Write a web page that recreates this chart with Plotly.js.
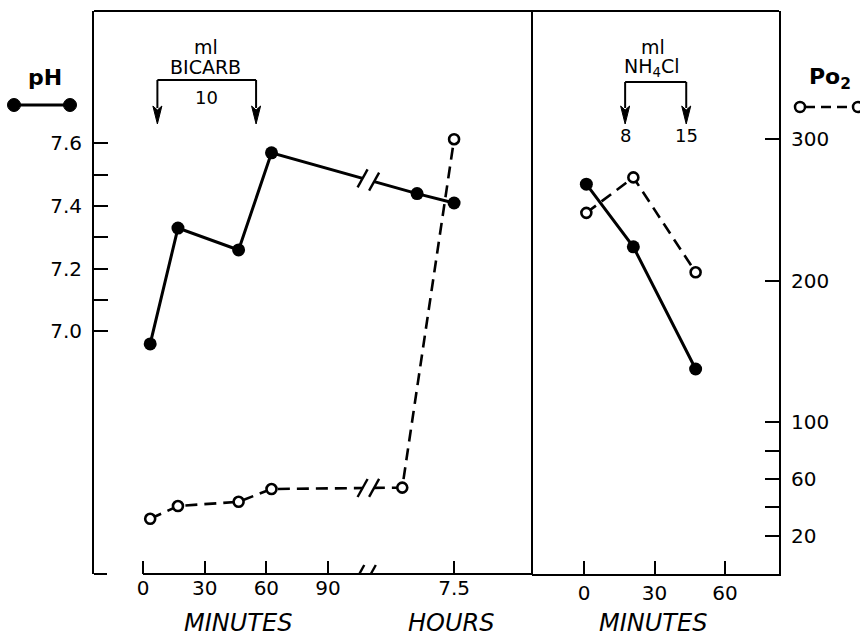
<!DOCTYPE html>
<html><head><meta charset="utf-8">
<script src="https://cdn.plot.ly/plotly-3.0.1.min.js"></script>
<style>html,body{margin:0;padding:0;background:#fff}#chart{width:860px;height:640px}</style>
</head><body><div id="chart"></div>
<script>
// ---------------- data ----------------
const bicarbMinutes = [3.5, 17, 46.5, 62.5];       // minutes after start (left panel)
const bicarbPH      = [6.96, 7.33, 7.26, 7.57];
const bicarbPO2     = [32, 41, 44, 53];
const laterHoursPH  = [7.0, 7.5];                   // hours (after the axis break)
const laterPH       = [7.44, 7.41];
const laterHoursPO2 = [6.8, 7.5];
const laterPO2      = [54, 300];
const nh4clMinutes  = [1, 21, 47.5];                // right panel
const nh4clPH       = [7.47, 7.27, 6.88];
const nh4clPO2      = [248, 273, 206];
const bicarbArrowMinutes = [7, 55];
const bicarbDose = '10';
const nh4clArrowMinutes  = [17.5, 43.5];
const nh4clDoses = ['8', '15'];
const leftMinuteTicks  = [0, 30, 60, 90];
const leftHourTicks    = [7.5];
const rightMinuteTicks = [0, 30, 60];
const pHTicks       = [7.0, 7.2, 7.4, 7.6];
const pHMinorTicks  = [7.1, 7.3, 7.5];
const po2Ticks      = [20, 60, 100, 200, 300];
const po2MinorTicks = [40, 80];

// ---------------- layout helpers ----------------
const W = 860, H = 640;
const fx = p => p / W;
const fy = p => 1 - p / H;
const FONT = 'DejaVu Sans, Verdana, sans-serif';

// broken time axis: minutes are plotted as-is, hours are placed after the break
const HOUR_ANCHOR = 7.5, HOUR_ANCHOR_POS = 151.3, HOUR_UNITS = 36;
const hourPos = h => HOUR_ANCHOR_POS + (h - HOUR_ANCHOR) * HOUR_UNITS;
const BREAK_POS = 109.6, BREAK_HALF = 2.8;

const X1_RANGE = [-23.83, 189.2];
const X2_RANGE = [-22.13, 82.98];
const PH_RANGE = [6.2255, 8.0229];
const PO2_RANGE = [-7.0, 390.5];

const leftX_PH  = bicarbMinutes.concat(laterHoursPH.map(hourPos));
const leftY_PH  = bicarbPH.concat(laterPH);
const leftX_PO2 = bicarbMinutes.concat(laterHoursPO2.map(hourPos));
const leftY_PO2 = bicarbPO2.concat(laterPO2);

function interp(xs, ys, x) {
  for (let i = 0; i < xs.length - 1; i++) {
    if (x >= xs[i] && x <= xs[i + 1]) {
      const t = (x - xs[i]) / (xs[i + 1] - xs[i]);
      return ys[i] + t * (ys[i + 1] - ys[i]);
    }
  }
  return ys[ys.length - 1];
}

const solidLine = {color: '#000', width: 3};
const dashedLine = {color: '#000', width: 2.6, dash: '12px,7px'};
const filled = {symbol: 'circle', size: 13, color: '#000'};
const open = {symbol: 'circle', size: 10, color: '#fff', line: {color: '#000', width: 2.6}};

const traces = [
  {x: leftX_PO2, y: leftY_PO2, xaxis: 'x', yaxis: 'y2', mode: 'lines+markers', line: dashedLine, marker: open, cliponaxis: false},
  {x: nh4clMinutes, y: nh4clPO2, xaxis: 'x2', yaxis: 'y2', mode: 'lines+markers', line: dashedLine, marker: open, cliponaxis: false},
  {x: leftX_PH, y: leftY_PH, xaxis: 'x', yaxis: 'y', mode: 'lines+markers', line: solidLine, marker: filled, cliponaxis: false},
  {x: nh4clMinutes, y: nh4clPH, xaxis: 'x2', yaxis: 'y', mode: 'lines+markers', line: solidLine, marker: filled, cliponaxis: false}
];

// ---------------- shapes ----------------
const shapes = [];
const black2 = {color: '#000', width: 2};
// frame
shapes.push({type: 'line', xref: 'paper', yref: 'paper', x0: fx(94), x1: fx(779), y0: fy(11), y1: fy(11), line: black2});
shapes.push({type: 'line', xref: 'paper', yref: 'paper', x0: fx(532), x1: fx(532), y0: fy(11), y1: fy(574), line: black2});
shapes.push({type: 'line', xref: 'paper', yref: 'paper', x0: fx(94), x1: fx(107), y0: fy(574), y1: fy(574), line: black2});
// left time axis line starts at time zero
shapes.push({type: 'line', xref: 'x', yref: 'paper', x0: 0, x1: X1_RANGE[1], y0: fy(574), y1: fy(574), line: black2});

function slash(xref, yref, xa, ya) {
  return {type: 'line', xref, yref, xsizemode: 'pixel', ysizemode: 'pixel', xanchor: xa, yanchor: ya,
          x0: -5, y0: -9, x1: 5, y1: 9, line: {color: '#000', width: 2.4}};
}
function gap(xref, yref, xa, ya, xb, yb) {
  return {type: 'line', xref, yref, x0: xa, y0: ya, x1: xb, y1: yb, line: {color: '#fff', width: 7}};
}
const bx = [BREAK_POS - BREAK_HALF, BREAK_POS + BREAK_HALF];
// break on the pH line
const phB = bx.map(x => interp(leftX_PH, leftY_PH, x));
shapes.push(gap('x', 'y', bx[0], phB[0], bx[1], phB[1]));
bx.forEach((x, i) => shapes.push(slash('x', 'y', x, phB[i])));
// break on the Po2 line
const poB = bx.map(x => interp(leftX_PO2, leftY_PO2, x));
shapes.push(gap('x', 'y2', bx[0], poB[0], bx[1], poB[1]));
bx.forEach((x, i) => shapes.push(slash('x', 'y2', x, poB[i])));
// break on the time axis
bx.forEach(x => shapes.push(slash('x', 'y', x - 1.6, PH_RANGE[0])));

// dose brackets with downward arrows
function doseArrow(xref, t, yTop) {
  shapes.push({type: 'line', xref, yref: 'paper', x0: t, x1: t, y0: fy(yTop), y1: fy(108), line: black2});
  shapes.push({type: 'path', xref, yref: 'paper', xsizemode: 'pixel', ysizemode: 'pixel', xanchor: t, yanchor: fy(124),
               path: 'M0,0 L-4.5,18 L0,14 L4.5,18 Z', fillcolor: '#000', line: {color: '#000', width: 1}});
}
shapes.push({type: 'line', xref: 'x', yref: 'paper', x0: bicarbArrowMinutes[0], x1: bicarbArrowMinutes[1], y0: fy(80), y1: fy(80), line: black2});
bicarbArrowMinutes.forEach(t => doseArrow('x', t, 80));
shapes.push({type: 'line', xref: 'x2', yref: 'paper', x0: nh4clArrowMinutes[0], x1: nh4clArrowMinutes[1], y0: fy(82), y1: fy(82), line: black2});
nh4clArrowMinutes.forEach(t => doseArrow('x2', t, 82));

// legend keys
shapes.push({type: 'line', xref: 'paper', yref: 'paper', x0: fx(14), x1: fx(70), y0: fy(105), y1: fy(105), line: {color: '#000', width: 3}});
[14, 70].forEach(c => shapes.push({type: 'circle', xref: 'paper', yref: 'paper', x0: fx(c - 6.5), x1: fx(c + 6.5), y0: fy(105 + 6.5), y1: fy(105 - 6.5), fillcolor: '#000', line: {color: '#000', width: 1}}));
shapes.push({type: 'line', xref: 'paper', yref: 'paper', x0: fx(805), x1: fx(853), y0: fy(107), y1: fy(107), line: {color: '#000', width: 2.6, dash: '10px,6px'}});
[800, 858].forEach(c => shapes.push({type: 'circle', xref: 'paper', yref: 'paper', x0: fx(c - 5), x1: fx(c + 5), y0: fy(107 + 5), y1: fy(107 - 5), fillcolor: '#fff', line: {color: '#000', width: 2.5}}));

// ---------------- annotations ----------------
const txt = (x, y, text, size, extra) => Object.assign({xref: 'paper', yref: 'paper', x: fx(x), y: fy(y), text, showarrow: false,
  xanchor: 'center', yanchor: 'middle', font: {family: FONT, size, color: '#000'}}, extra || {});
const annotations = [
  txt(45, 78, '<b>pH</b>', 22),
  txt(830, 79, '<b>Po<sub>2</sub></b>', 22),
  txt(206, 47, 'ml', 19),
  txt(205, 67, 'BICARB', 19),
  txt(653, 47, 'ml', 19),
  txt(652, 67, 'NH<sub>4</sub>Cl', 19),
  txt(238, 639, '<i>MINUTES</i>', 24, {yanchor: 'bottom'}),
  txt(451, 639, '<i>HOURS</i>', 24, {yanchor: 'bottom'}),
  txt(653, 639, '<i>MINUTES</i>', 24, {yanchor: 'bottom'}),
  {xref: 'x', yref: 'paper', x: (bicarbArrowMinutes[0] + bicarbArrowMinutes[1]) / 2, y: fy(98), text: bicarbDose, showarrow: false,
   xanchor: 'center', yanchor: 'middle', font: {family: FONT, size: 18, color: '#000'}}
];
nh4clArrowMinutes.forEach((t, i) => annotations.push({xref: 'x2', yref: 'paper', x: t, y: fy(135), text: nh4clDoses[i], showarrow: false,
  xanchor: 'center', yanchor: 'middle', font: {family: FONT, size: 18, color: '#000'}}));

// ---------------- axes ----------------
const tickFont = {family: FONT, size: 20, color: '#000'};
const tickStyle = {ticks: 'inside', tickwidth: 2, tickcolor: '#000', showgrid: false, zeroline: false};
const minorStyle = vals => ({tickvals: vals, ticks: 'inside', ticklen: 14, tickwidth: 2, tickcolor: '#000', showgrid: false});
const layout = {
  width: W, height: H,
  margin: {l: 0, r: 0, t: 0, b: 0},
  paper_bgcolor: '#fff', plot_bgcolor: 'rgba(0,0,0,0)',
  showlegend: false,
  font: {family: FONT, color: '#000'},
  xaxis: Object.assign({domain: [fx(94), fx(532)], range: X1_RANGE, anchor: 'y', showline: false, ticklen: 13,
          tickvals: leftMinuteTicks.concat(leftHourTicks.map(hourPos)),
          ticktext: leftMinuteTicks.map(String).concat(leftHourTicks.map(String)),
          tickfont: tickFont, ticklabelstandoff: 0}, tickStyle),
  xaxis2: Object.assign({domain: [fx(532), fx(779)], range: X2_RANGE, anchor: 'y', showline: true, linewidth: 2, linecolor: '#000',
           ticklen: 13, tickvals: rightMinuteTicks, ticktext: rightMinuteTicks.map(String), tickfont: tickFont, ticklabelstandoff: 0}, tickStyle),
  yaxis: Object.assign({domain: [fy(574), fy(11)], range: PH_RANGE, anchor: 'x', side: 'left', showline: true, linewidth: 2, linecolor: '#000',
          ticklen: 14, tickvals: pHTicks, ticktext: pHTicks.map(v => v.toFixed(1)), tickfont: tickFont, ticklabelstandoff: 6,
          minor: minorStyle(pHMinorTicks)}, tickStyle),
  yaxis2: Object.assign({overlaying: 'y', range: PO2_RANGE, anchor: 'x2', side: 'right', showline: true, linewidth: 2, linecolor: '#000',
           ticklen: 14, tickvals: po2Ticks, ticktext: po2Ticks.map(String), tickfont: tickFont, ticklabelstandoff: 6,
           minor: minorStyle(po2MinorTicks)}, tickStyle),
  shapes, annotations
};

Plotly.newPlot('chart', traces, layout, {staticPlot: true, displayModeBar: false});
</script>
</body></html>
